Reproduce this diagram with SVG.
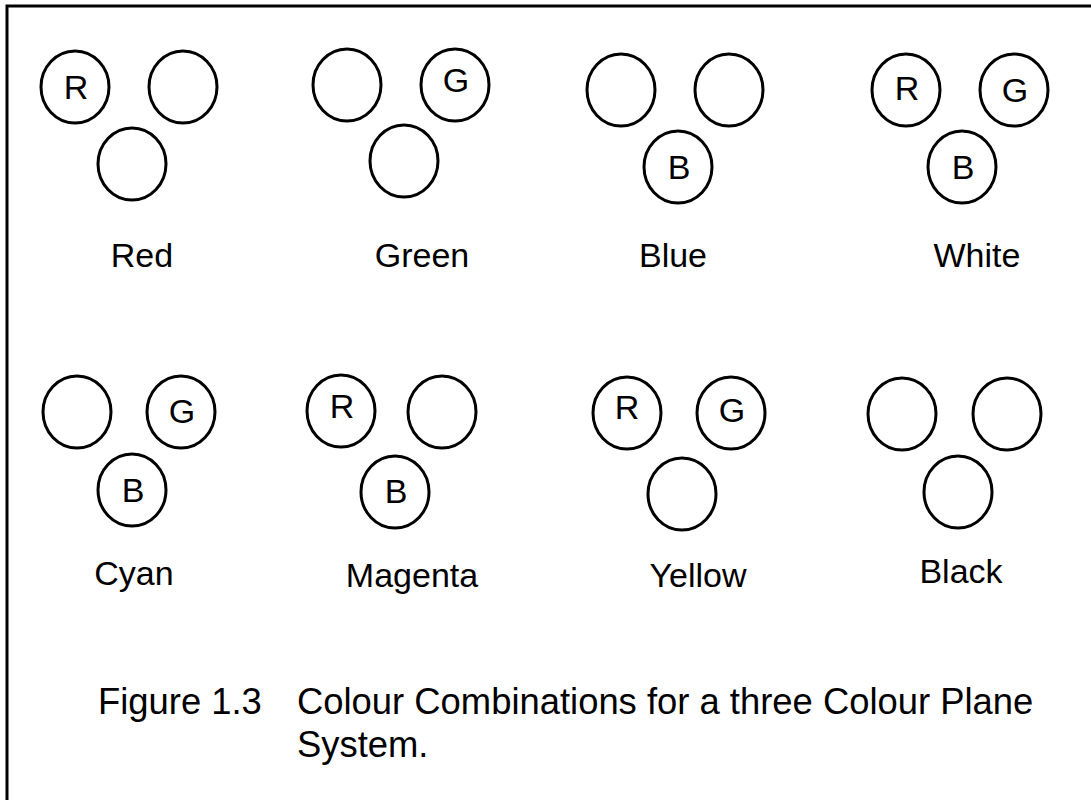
<svg xmlns="http://www.w3.org/2000/svg" width="1091" height="800" viewBox="0 0 1091 800">
<style>
.c{fill:none;stroke:#000;stroke-width:3}
.l{font-family:"Liberation Sans",Arial,sans-serif;font-size:34px;fill:#000;text-anchor:middle}
.n{font-family:"Liberation Sans",Arial,sans-serif;font-size:34px;fill:#000;text-anchor:middle}
.cap{font-family:"Liberation Sans",Arial,sans-serif;font-size:36.4px;fill:#000}
.b{fill:none;stroke:#000;stroke-width:3}
</style>
<rect width="1091" height="800" fill="#fff"/>
<path class="b" d="M7,800 V6 H1091"/>
<g id="red">
<ellipse class="c" cx="75" cy="87" rx="34" ry="36"/><text class="l" x="76" y="99">R</text>
<ellipse class="c" cx="183" cy="87" rx="34" ry="36"/>
<ellipse class="c" cx="132" cy="164" rx="34" ry="36"/>
<text class="n" x="142" y="267">Red</text>
</g>
<g id="green">
<ellipse class="c" cx="347" cy="85" rx="34" ry="36"/>
<ellipse class="c" cx="455" cy="85" rx="34" ry="36"/><text class="l" x="456" y="92">G</text>
<ellipse class="c" cx="404" cy="161" rx="34" ry="36"/>
<text class="n" x="422" y="267">Green</text>
</g>
<g id="blue">
<ellipse class="c" cx="621" cy="90" rx="34" ry="36"/>
<ellipse class="c" cx="729" cy="90" rx="34" ry="36"/>
<ellipse class="c" cx="678" cy="167" rx="34" ry="36"/><text class="l" x="679" y="179">B</text>
<text class="n" x="673" y="267">Blue</text>
</g>
<g id="white">
<ellipse class="c" cx="906" cy="90" rx="34" ry="36"/><text class="l" x="907" y="100">R</text>
<ellipse class="c" cx="1014" cy="90" rx="34" ry="36"/><text class="l" x="1015" y="102">G</text>
<ellipse class="c" cx="962" cy="167" rx="34" ry="36"/><text class="l" x="963" y="179">B</text>
<text class="n" x="977" y="267">White</text>
</g>
<g id="cyan">
<ellipse class="c" cx="77" cy="412" rx="34" ry="36"/>
<ellipse class="c" cx="181" cy="412" rx="34" ry="36"/><text class="l" x="182" y="423">G</text>
<ellipse class="c" cx="132" cy="490" rx="34" ry="36"/><text class="l" x="133" y="502">B</text>
<text class="n" x="134" y="585">Cyan</text>
</g>
<g id="magenta">
<ellipse class="c" cx="341" cy="411" rx="34" ry="36"/><text class="l" x="342" y="418">R</text>
<ellipse class="c" cx="442" cy="412" rx="34" ry="36"/>
<ellipse class="c" cx="395" cy="492" rx="34" ry="36"/><text class="l" x="396" y="503">B</text>
<text class="n" x="412" y="587">Magenta</text>
</g>
<g id="yellow">
<ellipse class="c" cx="627" cy="413" rx="34" ry="36"/><text class="l" x="627" y="419">R</text>
<ellipse class="c" cx="731" cy="413" rx="34" ry="36"/><text class="l" x="732" y="422">G</text>
<ellipse class="c" cx="682" cy="494" rx="34" ry="36"/>
<text class="n" x="698" y="587">Yellow</text>
</g>
<g id="black">
<ellipse class="c" cx="902" cy="414" rx="34" ry="36"/>
<ellipse class="c" cx="1007" cy="414" rx="34" ry="36"/>
<ellipse class="c" cx="958" cy="492" rx="34" ry="36"/>
<text class="n" x="961" y="583">Black</text>
</g>
<g id="connectors"></g>
<g id="caption">
<text class="cap" x="98" y="714">Figure 1.3</text>
<text class="cap" x="297" y="714">Colour Combinations for a three Colour Plane</text>
<text class="cap" x="297" y="757">System.</text>
</g>
</svg>
